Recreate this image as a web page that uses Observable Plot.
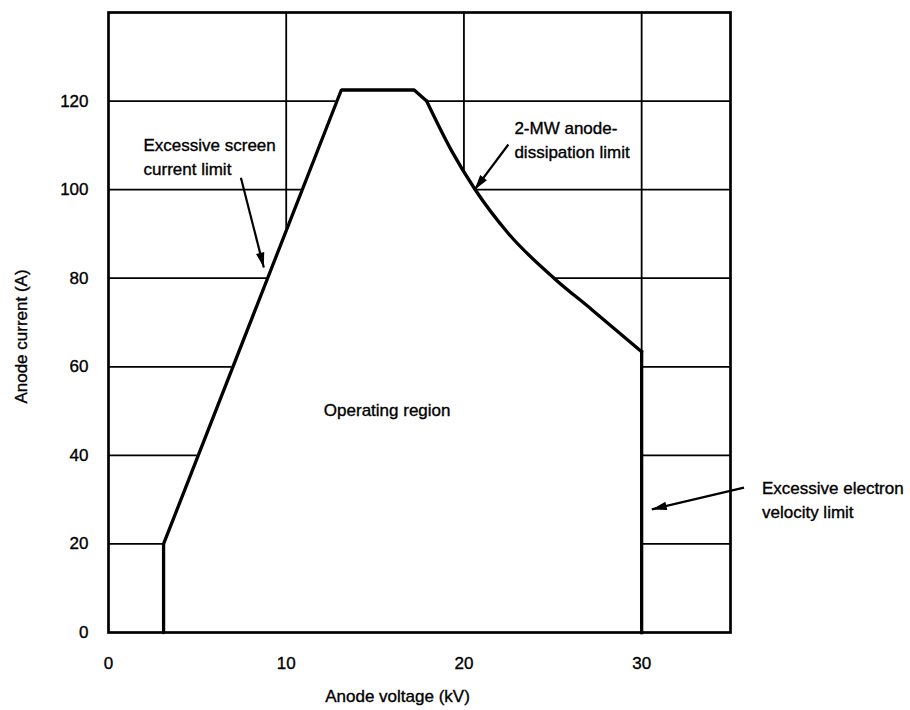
<!DOCTYPE html>
<html><head><meta charset="utf-8">
<script src="https://cdn.jsdelivr.net/npm/d3@7"></script>
<script src="https://cdn.jsdelivr.net/npm/@observablehq/plot@0.6"></script>
<style>
body{margin:0;background:#fff;}
#chart svg{display:block;}
#chart svg text{stroke:#000;stroke-width:0.35px;}
</style>
</head><body><div id="chart"></div>
<script>
// Operating-region boundary, straight part (anode voltage kV, anode current A)
const screenV = [3.1, 3.1, 13.1, 17.2, 17.9];
const screenI = [0, 20, 122.5, 122.5, 120];
// 2-MW anode-dissipation curve
const dissV = [17.9, 19.3, 20.6, 22.5, 25.1, 27.2, 30];
const dissI = [120, 108.8, 100.2, 90.1, 79.9, 72.9, 63.4];
// Electron-velocity limit (vertical edge)
const velocityV = [30, 30];
const velocityI = [63.4, 0];

const xTicks = [0, 10, 20, 30];
const yTicks = [0, 20, 40, 60, 80, 100, 120];
const xGrid = [10, 20, 30];
const yGrid = [20, 40, 60, 80, 100, 120];

const labelText = ["Excessive screen\ncurrent limit", "2-MW anode-\ndissipation limit", "Excessive electron\nvelocity limit"];
const labelX = [1.97, 22.84, 36.77];
const labelY = [112.6, 116.3, 35.0];

const arrowX1 = [7.45, 22.5, 35.76];
const arrowY1 = [102.7, 110.2, 32.7];
const arrowX2 = [8.74, 20.6, 30.57];
const arrowY2 = [82.4, 100.0, 27.8];

const W = 910, H = 710, ML = 108, MR = 180, MT = 12, MB = 78;
const xDomain = [0, 35], yDomain = [0, 140];
const kx = (W - ML - MR) / (xDomain[1] - xDomain[0]);
const ky = (H - MT - MB) / (yDomain[1] - yDomain[0]);

const pts = (V, I) => V.map((v, i) => ({v, a: I[i]}));
const screenPts = pts(screenV, screenI);
const dissPts = pts(dissV, dissI);
const velPts = pts(velocityV, velocityI);
const labels = labelText.map((t, i) => ({t, x: labelX[i], y: labelY[i]}));
const arrows = arrowX1.map((x1, i) => {
  const sx = (arrowX2[i] - x1) * kx, sy = -(arrowY2[i] - arrowY1[i]) * ky;
  return {x1, y1: arrowY1[i], x2: arrowX2[i], y2: arrowY2[i], rot: Math.atan2(sx, -sy) * 180 / Math.PI};
});
const head = {draw(ctx) { ctx.moveTo(0, 0); ctx.lineTo(-4.2, 15); ctx.lineTo(4.2, 15); ctx.closePath(); }};

const chart = Plot.plot({
  width: W,
  height: H,
  marginLeft: ML,
  marginRight: MR,
  marginTop: MT,
  marginBottom: MB,
  x: {domain: xDomain},
  y: {domain: yDomain},
  style: {fontFamily: "'Liberation Sans', Arial, sans-serif", fontSize: "17px", color: "#000", background: "#fff"},
  marks: [
    Plot.ruleX(xGrid, {stroke: "#000", strokeWidth: 1.8}),
    Plot.ruleY(yGrid, {stroke: "#000", strokeWidth: 1.8}),
    Plot.areaY(screenPts.slice(1), {x: "v", y: "a", fill: "#fff", stroke: "#fff", strokeWidth: 1.5}),
    Plot.areaY(dissPts, {x: "v", y: "a", fill: "#fff", stroke: "#fff", strokeWidth: 1.5, curve: "monotone-x"}),
    Plot.line(screenPts, {x: "v", y: "a", stroke: "#000", strokeWidth: 3.3, strokeLinejoin: "miter"}),
    Plot.line(dissPts, {x: "v", y: "a", stroke: "#000", strokeWidth: 3.3, curve: "monotone-x"}),
    Plot.line(velPts, {x: "v", y: "a", stroke: "#000", strokeWidth: 3.3, strokeLinecap: "square"}),
    Plot.frame({stroke: "#000", strokeWidth: 2.7}),
    Plot.axisX(xTicks, {tickSize: 0, tickPadding: 24, label: null, fontSize: 17}),
    Plot.axisY(yTicks, {tickSize: 0, tickPadding: 20, label: null, fontSize: 17}),
    Plot.text(["Anode voltage (kV)"], {frameAnchor: "bottom", textAnchor: "middle", lineAnchor: "middle", dx: -22, dy: 64, fontSize: 17}),
    Plot.text(["Anode current (A)"], {frameAnchor: "left", textAnchor: "middle", lineAnchor: "middle", rotate: -90, dx: -87, dy: 14, fontSize: 17}),
    Plot.text(["Operating region"], {x: [15.68], y: [50.1], text: d => d, fontSize: 17}),
    Plot.text(labels, {x: "x", y: "y", text: "t", textAnchor: "start", lineAnchor: "top", lineHeight: 1.4, fontSize: 17}),
    Plot.link(arrows, {x1: "x1", y1: "y1", x2: "x2", y2: "y2", stroke: "#000", strokeWidth: 2.2}),
    Plot.dot(arrows, {x: "x2", y: "y2", symbol: head, rotate: "rot", fill: "#000", stroke: "none", r: 4})
  ]
});
document.getElementById("chart").appendChild(chart);
</script>
</body></html>
